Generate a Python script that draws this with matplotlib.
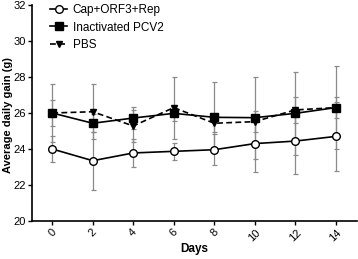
import matplotlib
matplotlib.use("Agg")
import matplotlib.pyplot as plt
from matplotlib.lines import Line2D

plt.rcParams['font.family'] = ['Liberation Sans', 'DejaVu Sans']

days = [0, 2, 4, 6, 8, 10, 12, 14]
cap_mean = [24.0, 23.35, 23.78, 23.87, 23.96, 24.3, 24.44, 24.7]
cap_sd = [0.74, 1.6, 0.78, 0.46, 0.86, 1.56, 1.84, 1.9]
pcv2_mean = [26.0, 25.43, 25.72, 25.98, 25.76, 25.74, 25.98, 26.3]
pcv2_sd = [1.6, 0.5, 0.6, 0.4, 1.94, 2.28, 2.32, 2.3]
pbs_mean = [26.0, 26.07, 25.28, 26.3, 25.43, 25.52, 26.17, 26.3]
pbs_sd = [0.74, 1.52, 0.9, 1.72, 0.5, 0.6, 0.7, 0.6]
yticks = [20, 22, 24, 26, 28, 30, 32]
labels = ['Cap+ORF3+Rep', 'Inactivated PCV2', 'PBS']

fig = plt.figure(figsize=(3.58, 2.59), dpi=100)
ax = fig.add_axes([32/358, 1-221/259, 325/358, 216/259])

ecol = '#8a8a8a'
ekw = dict(ecolor=ecol, elinewidth=0.9, capsize=1.8, capthick=0.9)
ax.errorbar(days, pbs_mean, yerr=pbs_sd, fmt='none', **ekw, zorder=1)
ax.errorbar(days, pcv2_mean, yerr=pcv2_sd, fmt='none', **ekw, zorder=1)
ax.errorbar(days, cap_mean, yerr=cap_sd, fmt='none', **ekw, zorder=1)

ax.plot(days, pbs_mean, color='black', lw=1.2, ls=(0, (3.5, 2)), marker='v',
        ms=5, mfc='black', mec='black', zorder=3)
ax.plot(days, pcv2_mean, color='black', lw=1.2, marker='s', ms=5.5,
        mfc='black', mec='black', zorder=3)
ax.plot(days, cap_mean, color='black', lw=1.2, marker='o', ms=5.5,
        mfc='white', mec='black', mew=1.0, zorder=4)

ax.set_xlim(-1, 15.05)
ax.set_ylim(20, 32)
ax.set_xticks(days)
ax.set_xticklabels([str(d) for d in days], rotation=45, ha='center', fontsize=8)
ax.set_yticks(yticks)
ax.set_yticklabels([str(t) for t in yticks], fontsize=8)
ax.tick_params(direction='out', length=3, width=1.0, pad=1.5)
for s in ['top', 'right']:
    ax.spines[s].set_visible(False)
for s in ['left', 'bottom']:
    ax.spines[s].set_linewidth(1.2)

ax.set_xlabel('Days', fontsize=8.5, fontweight='bold', labelpad=0)
ax.set_ylabel('Average daily gain (g)', fontsize=8, fontweight='bold')
ax.yaxis.set_label_coords(-19/325, 0.49)

handles = [
    Line2D([], [], color='black', lw=1.2, marker='o', ms=5.5, mfc='white', mec='black'),
    Line2D([], [], color='black', lw=1.2, marker='s', ms=5.5, mfc='black'),
    Line2D([], [], color='black', lw=1.2, ls=(0, (3.5, 2)), marker='v', ms=5, mfc='black'),
]
fig.legend(handles, labels, loc='upper left', bbox_to_anchor=(42/358, 1+4/259),
           frameon=False, fontsize=8.5, handlelength=1.4, handletextpad=0.5,
           labelspacing=0.45, borderpad=0.2)

fig.savefig('out.png', dpi=100)
